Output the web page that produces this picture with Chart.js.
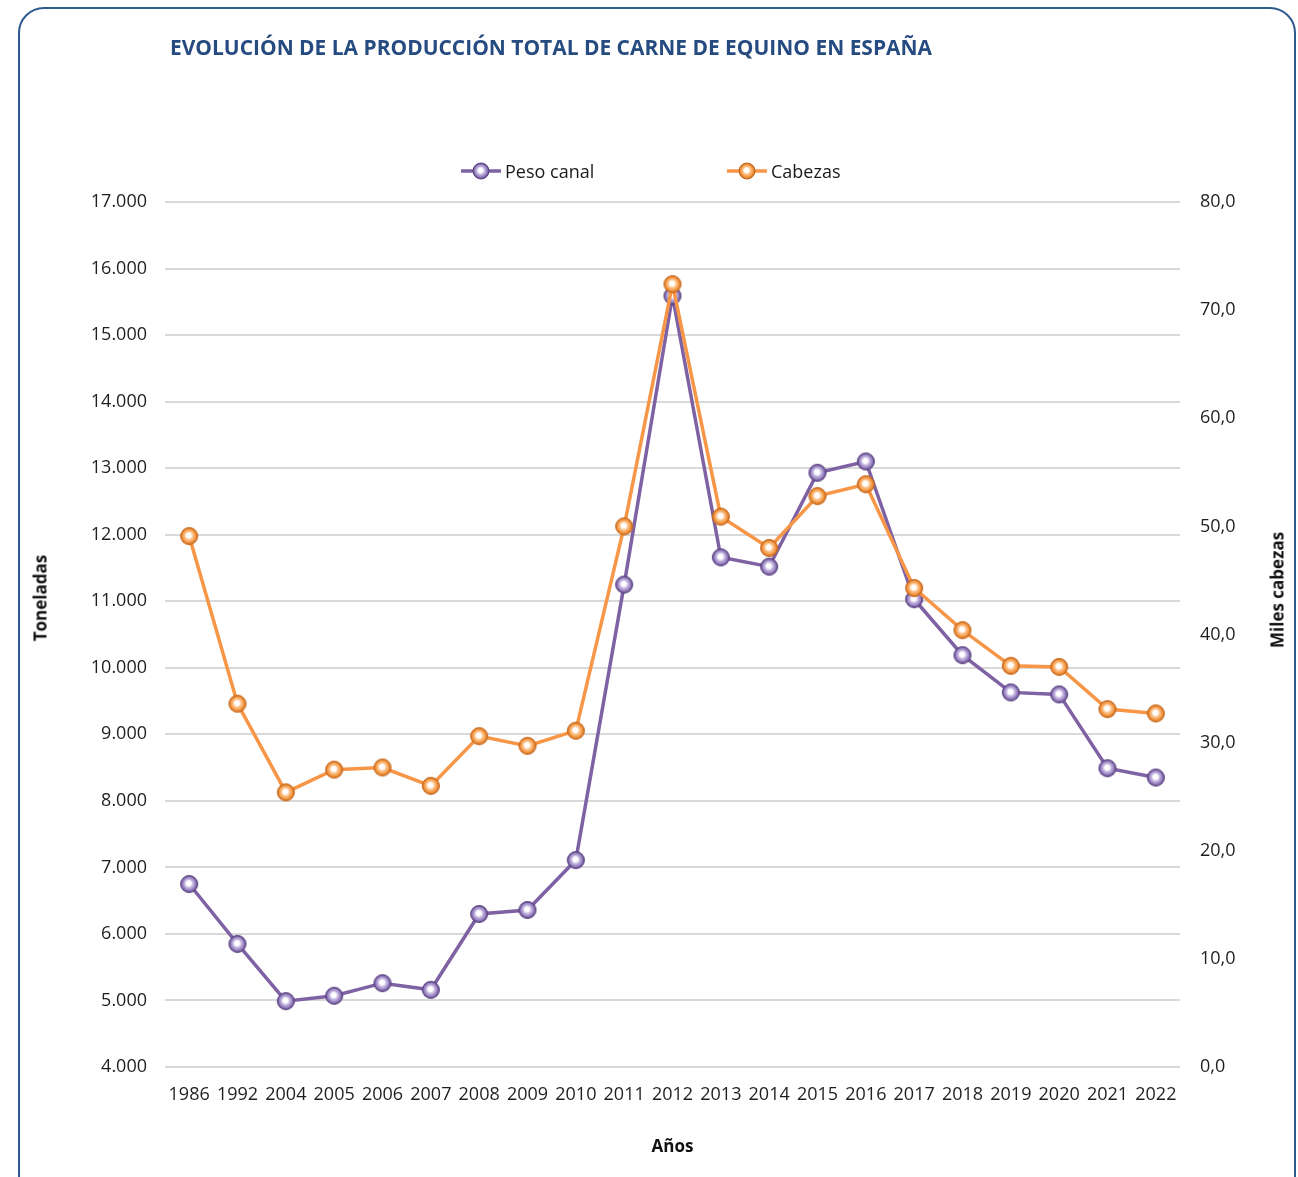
<!DOCTYPE html>
<html>
<head>
<meta charset="utf-8">
<script src="https://cdn.jsdelivr.net/npm/chart.js@4.4.1/dist/chart.umd.min.js"></script>
<style>
  html,body{margin:0;padding:0;background:#fff;}
  #wrap{position:relative;width:1298px;height:1177px;overflow:hidden;background:#fff;font-family:'Open Sans',sans-serif;}
  #frame{position:absolute;left:18px;top:7px;width:1278px;height:1220px;border:2px solid #2f5a8f;border-radius:26px;box-sizing:border-box;}
  #c{position:absolute;left:0;top:0;}
  #title{position:absolute;left:170px;top:33px;font-weight:bold;font-size:21px;color:#254b80;white-space:nowrap;transform-origin:0 0;line-height:normal;}
  .leg{position:absolute;top:171px;height:0;}
  .leg canvas{position:absolute;top:-9px;left:0;}
  .leg span{position:absolute;left:45px;top:-13px;font-size:18px;color:#1a1a1a;white-space:nowrap;line-height:26px;}
  .ytitle{position:absolute;font-weight:bold;font-size:17px;color:#111;white-space:nowrap;transform:translate(-50%,-50%) rotate(-90deg);}
</style>
</head>
<body>
<div id="wrap">
  <div id="frame"></div>
  <canvas id="c" width="1298" height="1177"></canvas>
  <div id="title">EVOLUCIÓN DE LA PRODUCCIÓN TOTAL DE CARNE DE EQUINO EN ESPAÑA</div>
  <div class="leg" id="leg1" style="left:460px;"><span>Peso canal</span></div>
  <div class="leg" id="leg2" style="left:726px;"><span>Cabezas</span></div>
  <div class="ytitle" style="left:40px;top:598px;">Toneladas</div>
  <div class="ytitle" style="left:1277px;top:590px;">Miles cabezas</div>
</div>
<script>
// ---- Data ----
const years = ['1986','1992','2004','2005','2006','2007','2008','2009','2010','2011','2012','2013','2014','2015','2016','2017','2018','2019','2020','2021','2022'];
const pesoCanal = [6750,5850,4990,5070,5260,5160,6300,6360,7110,11250,15590,11660,11520,12930,13100,11030,10190,9630,9600,8490,8350];
const cabezas = [49.1,33.6,25.4,27.5,27.7,26.0,30.6,29.7,31.1,50.0,72.4,50.9,48.0,52.8,53.9,44.3,40.4,37.1,37.0,33.1,32.7];
const seriesNames = ['Peso canal','Cabezas'];
const leftAxisRange = [4000, 17000, 1000];
const rightAxisRange = [0, 80, 10];

// ---- Styling helpers ----
const PURPLE = '#7f62a4';
const ORANGE = '#f79646';

function drawSphere(ctx, cx, cy, r, light, mid, dark) {
  const g = ctx.createRadialGradient(cx - 0.6, cy - 1, 0, cx, cy, r);
  g.addColorStop(0, '#ffffff');
  g.addColorStop(0.28, '#ffffff');
  g.addColorStop(0.48, light);
  g.addColorStop(0.75, mid);
  g.addColorStop(1, dark);
  ctx.beginPath();
  ctx.arc(cx, cy, r, 0, Math.PI * 2);
  ctx.fillStyle = g;
  ctx.fill();
  ctx.lineWidth = 1;
  ctx.strokeStyle = dark;
  ctx.stroke();
}
function makeMarker(light, mid, dark) {
  const c = document.createElement('canvas');
  c.width = 20; c.height = 20;
  drawSphere(c.getContext('2d'), 10, 10, 8.5, light, mid, dark);
  return c;
}
function makeLegendIcon(color, light, mid, dark) {
  const c = document.createElement('canvas');
  c.width = 42; c.height = 18;
  const ctx = c.getContext('2d');
  ctx.strokeStyle = color; ctx.lineWidth = 3.5;
  ctx.beginPath(); ctx.moveTo(1, 9); ctx.lineTo(41, 9); ctx.stroke();
  drawSphere(ctx, 21, 9, 8, light, mid, dark);
  return c;
}
const pCols = ['#c9bbe3', '#9a83c2', '#5a4282'];
const oCols = ['#fcc590', '#f59a45', '#c8681d'];
const purpleMarker = makeMarker(...pCols);
const orangeMarker = makeMarker(...oCols);
document.getElementById('leg1').prepend(makeLegendIcon(PURPLE, ...pCols));
document.getElementById('leg2').prepend(makeLegendIcon(ORANGE, ...oCols));

// title width fit
(function(){
  const t = document.getElementById('title');
  const w = t.getBoundingClientRect().width;
  t.style.transform = 'scaleX(' + (762 / w) + ')';
})();

function fmtThousands(v) {
  return String(Math.round(v)).replace(/\B(?=(\d{3})+(?!\d))/g, '.');
}
function fmtDec(v) {
  return v.toFixed(1).replace('.', ',');
}

const tickFont = {family: "'Open Sans', sans-serif", size: 18};

new Chart(document.getElementById('c'), {
  type: 'line',
  data: {
    labels: years,
    datasets: [
      {
        label: seriesNames[0],
        data: pesoCanal,
        yAxisID: 'y',
        borderColor: PURPLE,
        backgroundColor: PURPLE,
        borderWidth: 3.5,
        pointStyle: purpleMarker,
        pointRadius: 9,
        tension: 0,
        order: 1
      },
      {
        label: seriesNames[1],
        data: cabezas,
        yAxisID: 'y1',
        borderColor: ORANGE,
        backgroundColor: ORANGE,
        borderWidth: 3.5,
        pointStyle: orangeMarker,
        pointRadius: 9,
        tension: 0,
        order: 0
      }
    ]
  },
  options: {
    responsive: false,
    devicePixelRatio: 1,
    animation: false,
    layout: {padding: {top: 202, left: 0, right: 0, bottom: 0}},
    plugins: {
      legend: {display: false},
      title: {display: false},
      tooltip: {enabled: false}
    },
    scales: {
      x: {
        type: 'category',
        offset: true,
        grid: {display: false, drawTicks: false},
        border: {display: false},
        ticks: {font: tickFont, color: '#1f1f1f', padding: 17, maxRotation: 0, autoSkip: false},
        title: {display: true, text: 'Años', color: '#111', font: {family: "'Open Sans', sans-serif", size: 17, weight: 'bold'}, padding: {top: 0, bottom: 20}},
        afterFit: s => { s.height = 110; }
      },
      y: {
        position: 'left',
        min: leftAxisRange[0], max: leftAxisRange[1],
        grid: {color: '#d9d9d9', lineWidth: 2, drawTicks: false},
        border: {display: false},
        ticks: {stepSize: leftAxisRange[2], font: tickFont, color: '#1f1f1f', padding: 18, callback: v => fmtThousands(v)},
        afterFit: s => { s.width = 165; }
      },
      y1: {
        position: 'right',
        min: rightAxisRange[0], max: rightAxisRange[1],
        grid: {display: false, drawTicks: false},
        border: {display: false},
        ticks: {stepSize: rightAxisRange[2], font: tickFont, color: '#1f1f1f', padding: 20, callback: v => fmtDec(v)},
        afterFit: s => { s.width = 118; }
      }
    }
  }
});
</script>
</body>
</html>
